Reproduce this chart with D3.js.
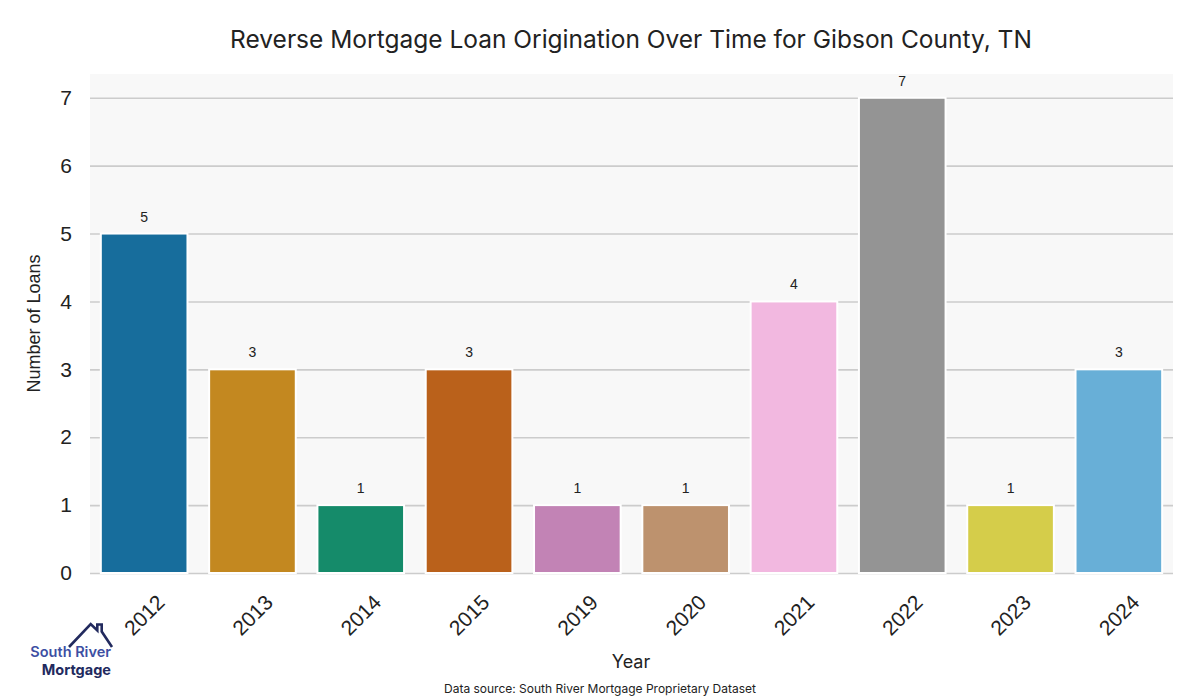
<!DOCTYPE html>
<html><head><meta charset="utf-8">
<script src="https://cdn.jsdelivr.net/npm/d3@7"></script>
<style>body{margin:0;background:#fff}svg{display:block}</style>
</head><body>
<script>
const years = ["2012","2013","2014","2015","2019","2020","2021","2022","2023","2024"];
const loans = [5,3,1,3,1,1,4,7,1,3];
const yTicks = [0,1,2,3,4,5,6,7];
const basePalette = ["#0173b2","#de8f05","#029e73","#d55e00","#cc78bc","#ca9161","#fbafe4","#949494","#ece133","#56b4e9"];
const titleText = "Reverse Mortgage Loan Origination Over Time for Gibson County, TN";

const W=1200,H=700;
const m={left:90,right:1173,top:74,bottom:573};
const svg=d3.select("body").append("svg").attr("width",W).attr("height",H);

const x=d3.scaleBand().domain(years).range([m.left,m.right]).paddingInner(0.2).paddingOuter(0.1);
const y=d3.scaleLinear().domain([0,7.35]).range([m.bottom,m.top]);
const colors=basePalette.map(c=>{const h=d3.hsl(c);h.s*=0.75;return h.formatHex();});

svg.append("rect").attr("x",m.left).attr("y",m.top).attr("width",m.right-m.left).attr("height",m.bottom-m.top).attr("fill","#f8f8f8");

// grid
const gy=svg.append("g").attr("transform",`translate(${m.left},0)`)
  .call(d3.axisLeft(y).tickValues(yTicks).tickSize(-(m.right-m.left)).tickPadding(18).tickFormat(d3.format("d")));
gy.select(".domain").remove();
gy.selectAll(".tick line").attr("stroke","#cccccc").attr("stroke-width",1.6);
gy.selectAll(".tick text").attr("font-family","Liberation Sans, Arial, sans-serif").attr("font-size",21).attr("fill","#222");

// bars
svg.append("g").selectAll("rect").data(years).join("rect")
  .attr("x",d=>x(d)).attr("width",x.bandwidth())
  .attr("y",(d,i)=>y(loans[i])).attr("height",(d,i)=>y(0)-y(loans[i]))
  .attr("fill",(d,i)=>colors[i]).attr("stroke","#fff").attr("stroke-width",2);

// value labels
svg.append("g").selectAll("text").data(years).join("text")
  .attr("x",d=>x(d)+x.bandwidth()/2).attr("y",(d,i)=>y(loans[i])-12)
  .attr("text-anchor","middle").attr("font-family","Liberation Sans, Arial, sans-serif")
  .attr("font-size",14).attr("fill","#222").text((d,i)=>loans[i]);

// x axis labels
const gx=svg.append("g").attr("transform",`translate(0,${m.bottom})`)
  .call(d3.axisBottom(x).tickSize(0).tickPadding(0));
gx.select(".domain").remove();
gx.selectAll(".tick text")
  .attr("font-family","Liberation Sans, Arial, sans-serif").attr("font-size",21).attr("fill","#222")
  .attr("text-anchor","middle").attr("dy",null).attr("y",null)
  .attr("dominant-baseline","central")
  .attr("transform","translate(0,42) rotate(-45)");

// title
svg.append("text").attr("x",631).attr("y",48).attr("text-anchor","middle")
  .attr("font-family","Inter, sans-serif").attr("font-size",24.5).attr("fill","#222").text(titleText);

// axis titles
svg.append("text").attr("transform","translate(40,323.5) rotate(-90)").attr("text-anchor","middle")
  .attr("font-family","Liberation Sans, Arial, sans-serif").attr("font-size",18).attr("fill","#222").text("Number of Loans");
svg.append("text").attr("x",631).attr("y",668).attr("text-anchor","middle")
  .attr("font-family","Inter, sans-serif").attr("font-size",18).attr("fill","#222").text("Year");
svg.append("text").attr("x",600).attr("y",693).attr("text-anchor","middle")
  .attr("font-family","Inter, sans-serif").attr("font-size",12).attr("fill","#222").text("Data source: South River Mortgage Proprietary Dataset");

// logo
const logo=svg.append("g");
logo.append("path").attr("d","M69,647 L90.7,624 L97.3,630.5 L97.3,624.5 L101.7,624.5 L101.7,631.5 L112,647")
  .attr("fill","none").attr("stroke","#222a5e").attr("stroke-width",2.6).attr("stroke-linejoin","miter");
logo.append("text").attr("x",111).attr("y",657).attr("text-anchor","end")
  .attr("font-family","Inter, sans-serif").attr("font-weight",600).attr("font-size",14.5).attr("fill","#3d4fa3").text("South River");
logo.append("text").attr("x",111).attr("y",675).attr("text-anchor","end")
  .attr("font-family","Inter, sans-serif").attr("font-weight",700).attr("font-size",14.5).attr("fill","#222a5e").text("Mortgage");
</script>
</body></html>
